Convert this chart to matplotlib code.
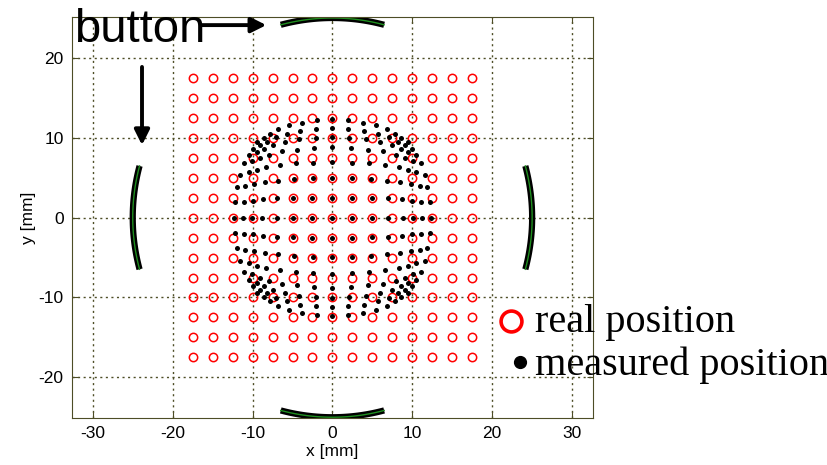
import numpy as np
import matplotlib
matplotlib.use("Agg")
import matplotlib.pyplot as plt
from matplotlib.lines import Line2D

plt.rcParams['axes.unicode_minus'] = False

# real grid positions [mm]
real_x = [-17.5, -15, -12.5, -10, -7.5, -5, -2.5, 0, 2.5, 5, 7.5, 10, 12.5, 15, 17.5]
real_y = [17.5, 15, 12.5, 10, 7.5, 5, 2.5, 0, -2.5, -5, -7.5, -10, -12.5, -15, -17.5]

# measured positions, one row per real y (top to bottom)
meas_x = [
    [-9.5, -8.6, -7.8, -6.8, -5.4, -3.8, -1.9, 0.0, 1.9, 3.8, 5.4, 6.8, 7.8, 8.6, 9.5],
    [-10.0, -9.1, -8.2, -7.1, -5.7, -4.0, -2.0, 0.0, 2.0, 4.0, 5.7, 7.1, 8.2, 9.1, 10.0],
    [-10.5, -9.5, -8.6, -7.5, -6.0, -4.2, -2.1, 0.0, 2.1, 4.2, 6.0, 7.5, 8.6, 9.5, 10.5],
    [-11.1, -10.1, -9.1, -7.9, -6.3, -4.4, -2.3, 0.0, 2.3, 4.4, 6.3, 7.9, 9.1, 10.1, 11.1],
    [-11.6, -10.5, -9.5, -8.3, -6.6, -4.6, -2.4, 0.0, 2.4, 4.6, 6.6, 8.3, 9.5, 10.5, 11.6],
    [-11.9, -10.9, -9.8, -8.5, -6.8, -4.8, -2.4, 0.0, 2.4, 4.8, 6.8, 8.5, 9.8, 10.9, 11.9],
    [-12.2, -11.1, -10.0, -8.7, -6.9, -4.9, -2.5, 0.0, 2.5, 4.9, 6.9, 8.7, 10.0, 11.1, 12.2],
    [-12.3, -11.2, -10.1, -8.8, -7.0, -4.9, -2.5, 0.0, 2.5, 4.9, 7.0, 8.8, 10.1, 11.2, 12.3],
    [-12.2, -11.1, -10.0, -8.7, -6.9, -4.9, -2.5, 0.0, 2.5, 4.9, 6.9, 8.7, 10.0, 11.1, 12.2],
    [-11.9, -10.9, -9.8, -8.5, -6.8, -4.8, -2.4, 0.0, 2.4, 4.8, 6.8, 8.5, 9.8, 10.9, 11.9],
    [-11.6, -10.5, -9.5, -8.3, -6.6, -4.6, -2.4, 0.0, 2.4, 4.6, 6.6, 8.3, 9.5, 10.5, 11.6],
    [-11.1, -10.1, -9.1, -7.9, -6.3, -4.4, -2.3, 0.0, 2.3, 4.4, 6.3, 7.9, 9.1, 10.1, 11.1],
    [-10.5, -9.5, -8.6, -7.5, -6.0, -4.2, -2.1, 0.0, 2.1, 4.2, 6.0, 7.5, 8.6, 9.5, 10.5],
    [-10.0, -9.1, -8.2, -7.1, -5.7, -4.0, -2.0, 0.0, 2.0, 4.0, 5.7, 7.1, 8.2, 9.1, 10.0],
    [-9.5, -8.6, -7.8, -6.8, -5.4, -3.8, -1.9, 0.0, 1.9, 3.8, 5.4, 6.8, 7.8, 8.6, 9.5],
]
meas_y = [
    [9.5, 10.0, 10.5, 11.1, 11.6, 11.9, 12.2, 12.3, 12.2, 11.9, 11.6, 11.1, 10.5, 10.0, 9.5],
    [8.6, 9.1, 9.5, 10.1, 10.5, 10.9, 11.1, 11.2, 11.1, 10.9, 10.5, 10.1, 9.5, 9.1, 8.6],
    [7.8, 8.2, 8.6, 9.1, 9.5, 9.8, 10.0, 10.1, 10.0, 9.8, 9.5, 9.1, 8.6, 8.2, 7.8],
    [6.8, 7.1, 7.5, 7.9, 8.3, 8.5, 8.7, 8.8, 8.7, 8.5, 8.3, 7.9, 7.5, 7.1, 6.8],
    [5.4, 5.7, 6.0, 6.3, 6.6, 6.8, 6.9, 7.0, 6.9, 6.8, 6.6, 6.3, 6.0, 5.7, 5.4],
    [3.8, 4.0, 4.2, 4.4, 4.6, 4.8, 4.9, 4.9, 4.9, 4.8, 4.6, 4.4, 4.2, 4.0, 3.8],
    [1.9, 2.0, 2.1, 2.3, 2.4, 2.4, 2.5, 2.5, 2.5, 2.4, 2.4, 2.3, 2.1, 2.0, 1.9],
    [0.0] * 15,
    [-1.9, -2.0, -2.1, -2.3, -2.4, -2.4, -2.5, -2.5, -2.5, -2.4, -2.4, -2.3, -2.1, -2.0, -1.9],
    [-3.8, -4.0, -4.2, -4.4, -4.6, -4.8, -4.9, -4.9, -4.9, -4.8, -4.6, -4.4, -4.2, -4.0, -3.8],
    [-5.4, -5.7, -6.0, -6.3, -6.6, -6.8, -6.9, -7.0, -6.9, -6.8, -6.6, -6.3, -6.0, -5.7, -5.4],
    [-6.8, -7.1, -7.5, -7.9, -8.3, -8.5, -8.7, -8.8, -8.7, -8.5, -8.3, -7.9, -7.5, -7.1, -6.8],
    [-7.8, -8.2, -8.6, -9.1, -9.5, -9.8, -10.0, -10.1, -10.0, -9.8, -9.5, -9.1, -8.6, -8.2, -7.8],
    [-8.6, -9.1, -9.5, -10.1, -10.5, -10.9, -11.1, -11.2, -11.1, -10.9, -10.5, -10.1, -9.5, -9.1, -8.6],
    [-9.5, -10.0, -10.5, -11.1, -11.6, -11.9, -12.2, -12.3, -12.2, -11.9, -11.6, -11.1, -10.5, -10.0, -9.5],
]

# pickup buttons: centre angle [deg], half opening [deg], radius [mm]
button_angles = [90, 180, 270, 0]
button_half = 15
button_r = 25

olive = '#4d4d26'

fig = plt.figure(figsize=(8.28, 4.65), dpi=100)
ax = fig.add_axes([0.087, 0.101, 0.629, 0.862])

gx, gy = np.meshgrid(real_x, real_y)
ax.plot(gx.ravel(), gy.ravel(), 'o', ls='none', ms=6, mfc='none', mec='red', mew=1.1)
ax.plot(np.ravel(meas_x), np.ravel(meas_y), 'o', ls='none', ms=3.6, color='black', mec='none')

for c in button_angles:
    th = np.radians(np.linspace(c - button_half, c + button_half, 60))
    ax.plot(button_r * np.cos(th), button_r * np.sin(th), color='black', lw=4.5, solid_capstyle='butt')
    ax.plot(button_r * np.cos(th), button_r * np.sin(th), color='#1f8f1f', lw=1)

ax.set_xlim(-32.6, 32.6)
ax.set_ylim(-25.1, 25.1)
ax.set_xticks([-30, -20, -10, 0, 10, 20, 30])
ax.set_yticks([-20, -10, 0, 10, 20])
ax.grid(True, ls=(0, (1.5, 2.5)), color=olive, lw=1)
ax.tick_params(direction='in', length=4, top=True, right=True, labelsize=12.5, color=olive, pad=6)
for lab in ax.get_xticklabels() + ax.get_yticklabels():
    lab.set_family('Liberation Sans')
for s in ax.spines.values():
    s.set_color(olive)
ax.set_xlabel('x [mm]', family='Liberation Sans', fontsize=12.5, labelpad=2)
ax.set_ylabel('y [mm]', family='Liberation Sans', fontsize=12.5, labelpad=2)

# annotations
fig.text(0.089, 0.910, 'button', family='Liberation Sans', fontsize=34, va='baseline')
ax.annotate('', xy=(0.325, 0.946), xytext=(0.24, 0.946), xycoords='figure fraction',
            arrowprops=dict(arrowstyle='-|>,head_length=0.9,head_width=0.45', lw=2.8, color='black'),
            annotation_clip=False)
ax.annotate('', xy=(0.1715, 0.682), xytext=(0.1715, 0.862), xycoords='figure fraction',
            arrowprops=dict(arrowstyle='-|>,head_length=0.9,head_width=0.45', lw=2.8, color='black'),
            annotation_clip=False)

# legend drawn in figure space
fig.add_artist(Line2D([0.617], [0.310], marker='o', ms=15, mfc='none', mec='red', mew=2.6,
                      transform=fig.transFigure))
fig.add_artist(Line2D([0.628], [0.221], marker='o', ms=8.5, color='black',
                      transform=fig.transFigure))
fig.text(0.646, 0.286, 'real position', family='Liberation Serif', fontsize=29, va='baseline')
fig.text(0.646, 0.194, 'measured position', family='Liberation Serif', fontsize=29, va='baseline')

fig.savefig('out.png', dpi=100)
